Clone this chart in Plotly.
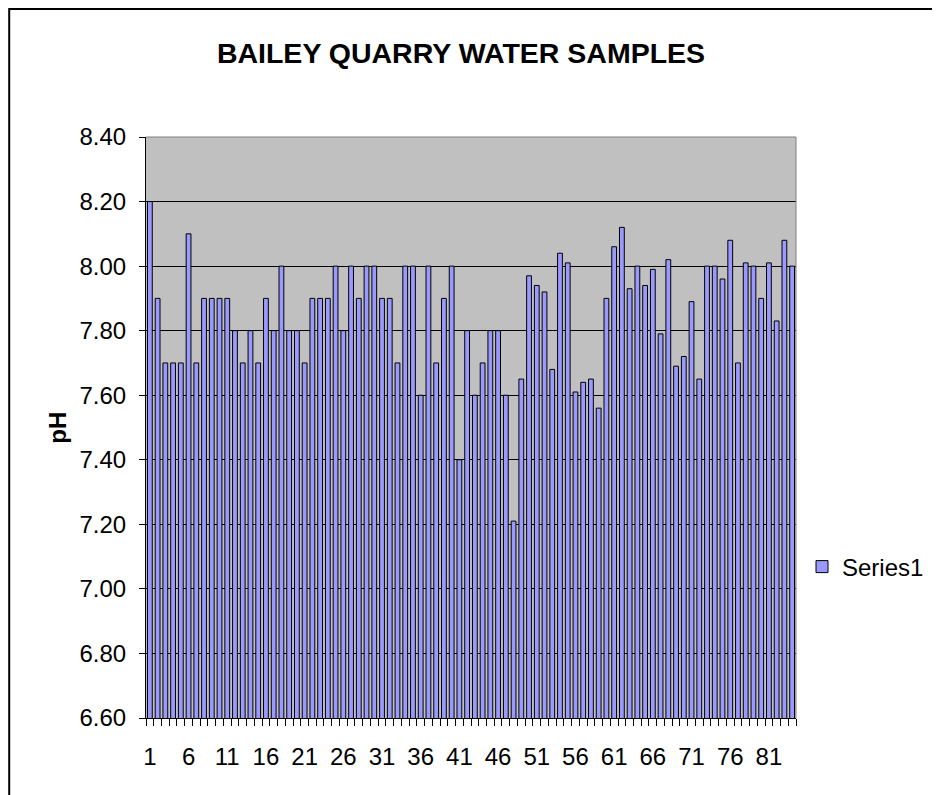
import plotly.graph_objects as go

samples = list(range(1, 85))
ph_values = [
    8.20, 7.90, 7.70, 7.70, 7.70, 8.10, 7.70, 7.90, 7.90, 7.90,
    7.90, 7.80, 7.70, 7.80, 7.70, 7.90, 7.80, 8.00, 7.80, 7.80,
    7.70, 7.90, 7.90, 7.90, 8.00, 7.80, 8.00, 7.90, 8.00, 8.00,
    7.90, 7.90, 7.70, 8.00, 8.00, 7.60, 8.00, 7.70, 7.90, 8.00,
    7.40, 7.80, 7.60, 7.70, 7.80, 7.80, 7.60, 7.21, 7.65, 7.97,
    7.94, 7.92, 7.68, 8.04, 8.01, 7.61, 7.64, 7.65, 7.56, 7.90,
    8.06, 8.12, 7.93, 8.00, 7.94, 7.99, 7.79, 8.02, 7.69, 7.72,
    7.89, 7.65, 8.00, 8.00, 7.96, 8.08, 7.70, 8.01, 8.00, 7.90,
    8.01, 7.83, 8.08, 8.00,
]
x_tick_vals = list(range(1, 85, 5))
x_tick_text = [str(v) for v in x_tick_vals]
y_tick_vals = [6.60, 6.80, 7.00, 7.20, 7.40, 7.60, 7.80, 8.00, 8.20, 8.40]

FONT = "Liberation Sans, Arial, sans-serif"

fig = go.Figure()
fig.add_trace(go.Bar(
    x=samples, y=ph_values, name="Series1",
    marker=dict(color="#9999FF", line=dict(color="black", width=1)),
    width=0.62,
))

OFF = 8  # page body margin
W, H = 940 - OFF, 795 - OFF
L, T = 146 - OFF, 137 - OFF
pw, ph = 651, 581
R = W - L - pw
B = H - T - ph

def px(xs):  # screen x -> paper
    return (xs - OFF - L) / pw

def py(ys):  # screen y -> paper
    return (T + ph - (ys - OFF)) / ph

fig.update_layout(
    width=W, height=H,
    margin=dict(l=L, r=R, t=T, b=B),
    paper_bgcolor="white",
    plot_bgcolor="#C0C0C0",
    font=dict(family=FONT, size=24, color="black"),
    title=dict(text="<b>BAILEY QUARRY WATER SAMPLES</b>",
               font=dict(family=FONT, size=28.5, color="black"),
               x=(461 - OFF) / W, xref="container", xanchor="center",
               y=1 - (53 - OFF) / H, yref="container", yanchor="middle"),
    showlegend=True,
    legend=dict(x=px(802), xanchor="left", y=py(567), yanchor="middle",
                font=dict(family=FONT, size=24), bgcolor="rgba(0,0,0,0)"),
)

fig.update_xaxes(
    range=[0.5, 84.5],
    tickmode="array", tickvals=x_tick_vals, ticktext=x_tick_text,
    ticks="", showgrid=False, zeroline=False,
    showline=True, linecolor="black", linewidth=1,
    ticklabelstandoff=17,
    minor=dict(tickmode="linear", tick0=0.5, dtick=1, ticks="outside",
               ticklen=7, tickcolor="black", tickwidth=1, showgrid=False),
)
fig.update_yaxes(
    range=[6.6, 8.4],
    tickmode="array", tickvals=y_tick_vals, tickformat=".2f",
    ticks="outside", ticklen=6, tickcolor="black",
    ticklabelstandoff=8,
    showgrid=True, gridcolor="black", gridwidth=1,
    zeroline=False, showline=True, linecolor="black", linewidth=1,
)

# y-axis title
fig.add_annotation(text="<b>pH</b>", x=px(57), y=0.5, xref="paper", yref="paper",
                   xanchor="center", yanchor="middle",
                   textangle=-90, showarrow=False, font=dict(family=FONT, size=24, color="black"))

# plot area top/right border (grey)
fig.add_shape(type="line", x0=0, x1=1, y0=1, y1=1, xref="paper", yref="paper",
              line=dict(color="#808080", width=1))
fig.add_shape(type="line", x0=1, x1=1, y0=0, y1=1, xref="paper", yref="paper",
              line=dict(color="#808080", width=1))

# chart area border (extends past right/bottom edge)
fig.add_shape(type="rect", x0=px(9), x1=px(960), y0=py(815), y1=py(9),
              xref="paper", yref="paper", line=dict(color="black", width=2),
              layer="above")

fig.write_html("out.html")
